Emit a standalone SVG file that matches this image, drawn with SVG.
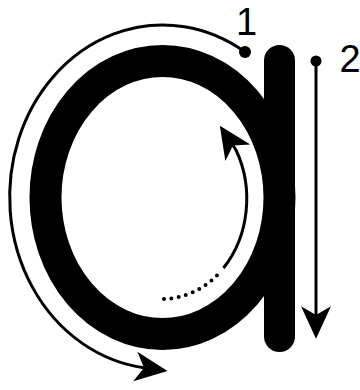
<svg xmlns="http://www.w3.org/2000/svg" width="360" height="390" viewBox="0 0 360 390">
  <style>
    .glyph { fill: #000; }
    .ring { fill: none; stroke: #000; stroke-width: 32; }
    .con { fill: none; stroke: #000; stroke-width: 3; }
    .dots { fill: none; stroke: #000; stroke-width: 4; stroke-linecap: round; stroke-dasharray: 0 7.4; }
    .num { font-family: "Liberation Sans", Arial, sans-serif; font-size: 38px; fill: #000; }
  </style>
  <defs>
    <marker id="head" markerUnits="userSpaceOnUse" markerWidth="40" markerHeight="40" refX="7" refY="0" viewBox="-2 -14 32 28" orient="auto" overflow="visible">
      <path d="M26,0 L0,-12 L7,0 L0,12 Z" fill="#000"/>
    </marker>
  </defs>
  <rect width="360" height="390" fill="#fff"/>
  <g id="letter-a">
    <ellipse class="ring" cx="162.5" cy="197.5" rx="117" ry="136.5"/>
    <rect class="glyph" x="264" y="45" width="31" height="307" rx="15.5" ry="15.5"/>
  </g>
  <g id="connectors">
    <g id="stroke1">
      <circle cx="245" cy="52" r="6" fill="#000"/>
      <path class="con" d="M245,52 A153,172 0 1 0 144,367.7" marker-end="url(#head)"/>
    </g>
    <g id="stroke2">
      <circle cx="316" cy="61" r="5.5" fill="#000"/>
      <path class="con" d="M316,61 L316,315" marker-end="url(#head)"/>
    </g>
    <g id="return-stroke">
      <path class="dots" d="M164,299 A86,101 0 0 0 218.5,274"/>
      <path class="con" d="M223.5,268 A86,101 0 0 0 236,150 L233,145.5" marker-end="url(#head)"/>
    </g>
  </g>
  <g id="labels">
    <text class="num" x="236" y="34.5">1</text>
    <text class="num" x="339.5" y="72">2</text>
  </g>
</svg>
